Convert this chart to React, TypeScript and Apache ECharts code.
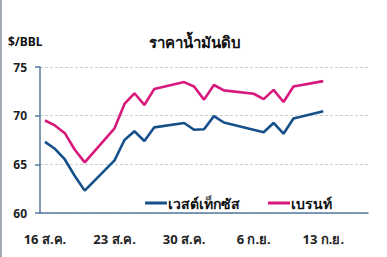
import React, { useEffect, useRef } from "react";
import * as echarts from "echarts";

const categories = [
  "16 ส.ค.", "17 ส.ค.", "18 ส.ค.", "19 ส.ค.", "20 ส.ค.", "21 ส.ค.", "22 ส.ค.",
  "23 ส.ค.", "24 ส.ค.", "25 ส.ค.", "26 ส.ค.", "27 ส.ค.", "28 ส.ค.", "29 ส.ค.",
  "30 ส.ค.", "31 ส.ค.", "1 ก.ย.", "2 ก.ย.", "3 ก.ย.", "4 ก.ย.", "5 ก.ย.",
  "6 ก.ย.", "7 ก.ย.", "8 ก.ย.", "9 ก.ย.", "10 ก.ย.", "11 ก.ย.", "12 ก.ย.",
  "13 ก.ย.", "14 ก.ย.", "15 ก.ย.", "16 ก.ย.", "17 ก.ย.",
];

const wti: (number | null)[] = [
  67.3, 66.6, 65.5, 63.8, 62.3, null, null,
  65.4, 67.5, 68.4, 67.4, 68.8, null, null,
  69.25, 68.55, 68.6, 69.95, 69.3, null, null,
  null, 68.3, 69.25, 68.15, 69.7, null, null,
  70.45, null, null, null, null,
];

const brent: (number | null)[] = [
  69.5, 69.0, 68.2, 66.5, 65.2, null, null,
  68.7, 71.2, 72.3, 71.1, 72.75, null, null,
  73.45, 73.0, 71.65, 73.15, 72.6, null, null,
  72.25, 71.7, 72.65, 71.4, 73.0, null, null,
  73.55, null, null, null, null,
];

const seriesNames = ["เวสต์เท็กซัส", "เบรนท์"];
const title = "ราคาน้ำมันดิบ";
const unit = "$/BBL";

const FONT = "'Noto Sans', 'DejaVu Sans', sans-serif";

export default function App() {
  const ref = useRef<HTMLDivElement>(null);
  useEffect(() => {
    document.body.style.margin = "0";
    const chart = echarts.init(ref.current!, null, { renderer: "svg" });
    chart.setOption({
      animation: false,
      backgroundColor: "#ffffff",
      textStyle: { fontFamily: FONT },
      grid: { left: 40, top: 67, width: 328, height: 146, containLabel: false },
      legend: {
        left: 140,
        top: 191,
        itemGap: 28,
        itemWidth: 22,
        itemHeight: 3,
        icon: "rect",
        textStyle: { fontSize: 14, color: "#111", fontFamily: FONT, fontWeight: "bold", padding: [0, 0, 0, -4] },
        data: seriesNames,
      },
      xAxis: {
        type: "category",
        data: categories,
        boundaryGap: true,
        axisLine: { lineStyle: { color: "#557aa0", width: 1.5 } },
        axisTick: { interval: 6, length: 5, lineStyle: { color: "#557aa0", width: 1.5 } },
        axisLabel: { interval: 6, fontSize: 13, fontWeight: "bold", color: "#222", margin: 19, fontFamily: FONT },
        splitLine: { show: false },
      },
      yAxis: {
        type: "value",
        min: 60,
        max: 75,
        interval: 5,
        axisLine: { show: true, lineStyle: { color: "#557aa0", width: 1.5 } },
        axisTick: { show: true, length: 5, lineStyle: { color: "#557aa0", width: 1.5 } },
        axisLabel: { fontSize: 12, fontWeight: "bold", color: "#222", margin: 13, fontFamily: FONT },
        splitLine: { lineStyle: { color: "#c9ced6", width: 1, type: [3, 2] } },
      },
      series: [
        {
          name: seriesNames[0],
          type: "line",
          data: wti,
          connectNulls: true,
          showSymbol: false,
          symbol: "none",
          color: "#16508a",
          lineStyle: { width: 2.6, color: "#16508a" },
        },
        {
          name: seriesNames[1],
          type: "line",
          data: brent,
          connectNulls: true,
          showSymbol: false,
          symbol: "none",
          color: "#d8197c",
          lineStyle: { width: 2.6, color: "#d8197c" },
        },
      ],
      graphic: [
        { type: "rect", left: 0, top: 0, shape: { width: 2, height: 257 }, style: { fill: "#a3aab2" } },
        {
          type: "text",
          x: 195,
          y: 42,
          style: { text: title, fontSize: 15, fontWeight: "bold", fill: "#111", align: "center", verticalAlign: "middle", fontFamily: FONT },
        },
        {
          type: "text",
          x: 8,
          y: 41,
          style: { text: unit, fontSize: 12, fontWeight: "bold", fill: "#111", align: "left", verticalAlign: "middle", fontFamily: FONT },
        },
      ],
    });
    return () => chart.dispose();
  }, []);
  return <div ref={ref} style={{ width: 387, height: 257 }} />;
}
